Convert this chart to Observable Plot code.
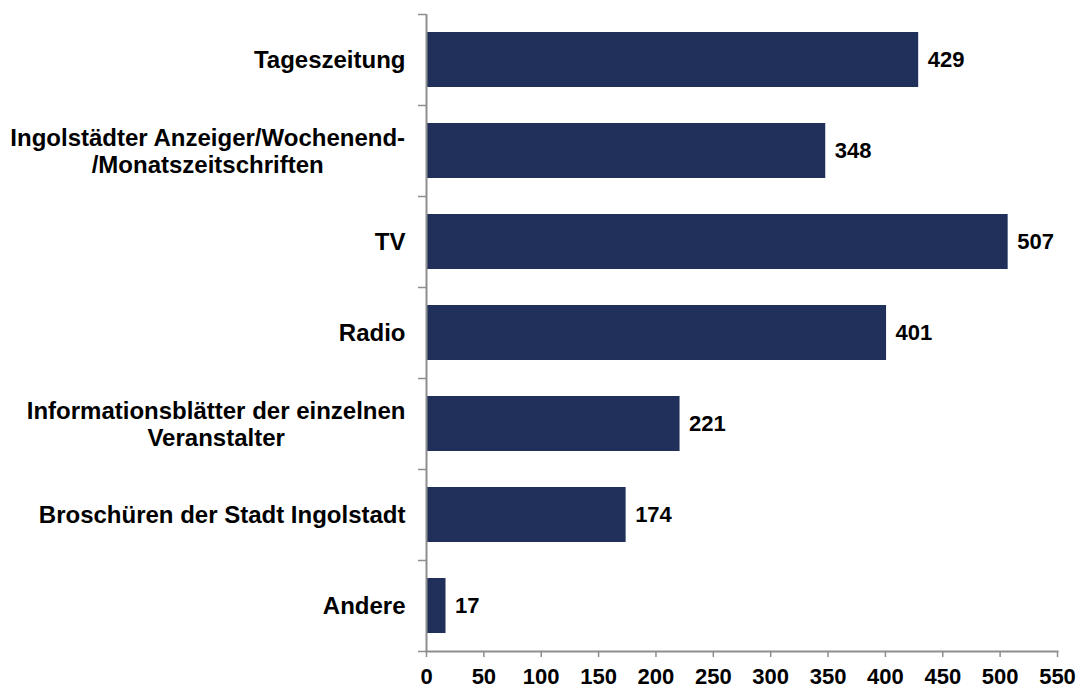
<!DOCTYPE html>
<html>
<head>
<meta charset="utf-8">
<script src="https://cdn.jsdelivr.net/npm/d3@7"></script>
<script src="https://cdn.jsdelivr.net/npm/@observablehq/plot@0.6"></script>
<style>
  html, body { margin: 0; padding: 0; background: #fff; }
  #chart svg { display: block; }
</style>
</head>
<body>
<div id="chart"></div>
<script>
const categories = [
  "Tageszeitung",
  "Ingolstädter Anzeiger/Wochenend-\n/Monatszeitschriften",
  "TV",
  "Radio",
  "Informationsblätter der einzelnen\nVeranstalter",
  "Broschüren der Stadt Ingolstadt",
  "Andere"
];
const values = [429, 348, 507, 401, 221, 174, 17];
const xTicks = [0, 50, 100, 150, 200, 250, 300, 350, 400, 450, 500, 550];

const data = categories.map((c, i) => ({category: c, value: values[i]}));

const FONT_FAMILY = "'Liberation Sans', Arial, sans-serif";
const FONT_SIZE = 22;
const CAT_FONT_SIZE = 24;
const GRAY = "#8e8e8e";
const BAR = "#20305a";

const ctx = document.createElement("canvas").getContext("2d");
ctx.font = `bold ${CAT_FONT_SIZE}px ${FONT_FAMILY}`;
const maxWidth = s => Math.max(...s.split("\n").map(l => ctx.measureText(l).width));

const marginTop = 14, marginBottom = 38, height = 689;
const step = (height - marginTop - marginBottom) / categories.length;

const labelMarks = categories.map(c => Plot.text([c], {
  y: d => d,
  text: d => d,
  frameAnchor: "left",
  textAnchor: "middle",
  dx: -(21 + maxWidth(c) / 2),
  lineHeight: 1.1,
  fontSize: CAT_FONT_SIZE,
  fontWeight: "bold",
  fill: "black"
}));

const chart = Plot.plot({
  width: 1079,
  height,
  marginTop,
  marginBottom,
  marginLeft: 426,
  marginRight: 22,
  style: {fontFamily: FONT_FAMILY, color: "black", background: "white"},
  x: {domain: [0, 550], ticks: xTicks, label: null},
  y: {domain: categories, paddingInner: 0.4, paddingOuter: 0.2, axis: null},
  marks: [
    Plot.barX(data, {y: "category", x: "value", fill: BAR}),
    Plot.text(data, {
      y: "category", x: "value", text: d => String(d.value),
      textAnchor: "start", dx: 9,
      fontSize: FONT_SIZE, fontWeight: "bold", fill: "black"
    }),
    ...labelMarks,
    Plot.ruleX([0], {stroke: GRAY, strokeWidth: 2}),
    Plot.frame({anchor: "bottom", stroke: GRAY, strokeWidth: 2}),
    Plot.ruleY(categories, {y: d => d, x1: -7, x2: 0, dy: -step / 2, stroke: GRAY, strokeWidth: 1.5}),
    Plot.ruleY([categories[categories.length - 1]], {y: d => d, x1: -7, x2: 0, dy: step / 2, stroke: GRAY, strokeWidth: 1.5}),
    Plot.axisX({
      ticks: xTicks,
      tickSize: 6,
      tickPadding: 11,
      stroke: GRAY,
      strokeWidth: 1.5,
      fill: "black",
      fontSize: FONT_SIZE,
      fontWeight: "bold",
      label: null
    })
  ]
});

document.getElementById("chart").appendChild(chart);
</script>
</body>
</html>
